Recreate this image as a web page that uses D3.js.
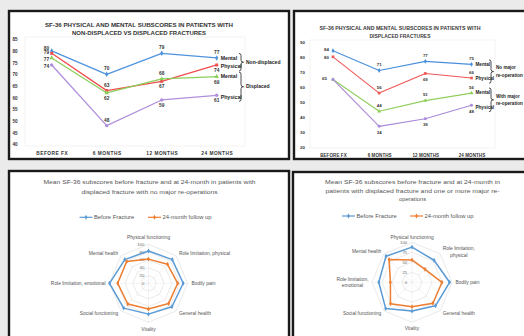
<!DOCTYPE html>
<html>
<head>
<meta charset="utf-8">
<script src="https://cdn.jsdelivr.net/npm/d3@7"></script>
<style>
  html, body { margin: 0; padding: 0; background: #ebebeb; }
  svg { display: block; font-family: "Liberation Sans", Arial, sans-serif; }
</style>
</head>
<body>
<svg id="chart" width="524" height="336"></svg>
<script>
// ---- Line charts: SF-36 summary scores over follow-up ----
const timepoints = ["BEFORE FX", "6 MONTHS", "12 MONTHS", "24 MONTHS"];

// Non-displaced vs displaced fractures
const ndMental   = [80, 70, 79, 77];
const ndPhysical = [79, 63, 67, 74];
const dMental    = [77, 62, 68, 69];
const dPhysical  = [74, 48, 59, 61];
const ticksA = [40, 45, 50, 55, 60, 65, 70, 75, 80, 85];

// Displaced fractures: without / with major re-operation
const noReopMental   = [84, 71, 77, 75];
const noReopPhysical = [80, 56, 69, 66];
const reopMental     = [65, 44, 51, 56];
const reopPhysical   = [65, 34, 39, 48];
const ticksB = [20, 30, 40, 50, 60, 70, 80, 90];

// ---- Radar charts: SF-36 subscales ----
const domains = ["Physical functioning", "Role limitation, physical", "Bodily pain",
  "General health", "Vitality", "Social functioning", "Role limitation, emotional", "Mental health"];
const noReopBefore = [83, 86, 89, 85, 79, 90, 100, 86];
const noReop24m    = [62, 69, 75, 73, 66, 75, 79, 79];
const reopBefore   = [88, 78, 94, 83, 72, 93, 83, 92];
const reop24m      = [56, 46, 75, 74, 61, 76, 54, 81];
const radarTicksC = [0, 20, 40, 60, 80, 100];
const radarTicksD = [0, 25, 50, 75, 100];
const legendNames = ["Before Fracture", "24-month follow up"];

const svg = d3.select("#chart");

// panel frames
const frames = [
  {x: 9, y: 11, w: 280, h: 148},
  {x: 294, y: 11, w: 240, h: 148},
  {x: 9, y: 171, w: 280, h: 180},
  {x: 293, y: 172, w: 240, h: 180}
];
svg.selectAll("rect.frame").data(frames).join("rect")
  .attr("class", "frame")
  .attr("x", d => d.x).attr("y", d => d.y).attr("width", d => d.w).attr("height", d => d.h)
  .attr("fill", "#fff").attr("stroke", "#1a1a1a").attr("stroke-width", 2.4);

function titleLines(g, lines, opt) {
  lines.forEach((t, i) => {
    const el = g.append("text")
      .attr("x", opt.cx).attr("y", opt.y0 + i * opt.lh)
      .attr("text-anchor", "middle").attr("dy", "0.35em")
      .attr("font-size", opt.fs).attr("font-weight", opt.bold ? "bold" : "normal")
      .attr("fill", opt.color).text(t);
    if (opt.widths && opt.widths[i]) el.attr("textLength", opt.widths[i]).attr("lengthAdjust", "spacingAndGlyphs");
  });
}

function brace(g, x, y1, y2, color) {
  const ym = (y1 + y2) / 2;
  g.append("path")
    .attr("d", `M${x - 2},${y1} Q${x},${y1} ${x},${y1 + 2} L${x},${ym - 2} Q${x},${ym} ${x + 2.5},${ym} Q${x},${ym} ${x},${ym + 2} L${x},${y2 - 2} Q${x},${y2} ${x - 2},${y2}`)
    .attr("fill", "none").attr("stroke", color).attr("stroke-width", 0.8);
}

function lineChart(g, opt) {
  const x = d3.scalePoint().domain(timepoints).range(opt.xRange);
  const y = d3.scaleLinear().domain(opt.yDomain).range(opt.yRange);

  g.append("rect")
    .attr("x", opt.plot[0]).attr("y", opt.plot[1]).attr("width", opt.plot[2]).attr("height", opt.plot[3])
    .attr("fill", "none").attr("stroke", "#f0f0f0").attr("stroke-width", 0.8);

  const ya = g.append("g").attr("transform", `translate(${opt.yAxisX},0)`)
    .call(d3.axisLeft(y).tickValues(opt.ticks).tickSize(0).tickPadding(2));
  ya.select(".domain").remove();
  ya.attr("font-family", null).attr("font-size", opt.tickFs).attr("font-weight", "bold");
  ya.selectAll("text").attr("fill", "#333");

  const xa = g.append("g").attr("transform", `translate(0,${opt.xAxisY})`)
    .call(d3.axisBottom(x).tickSize(0).tickPadding(0));
  xa.select(".domain").remove();
  xa.attr("font-family", null).attr("font-size", opt.catFs).attr("font-weight", "bold");
  xa.selectAll("text").attr("fill", "#333").attr("letter-spacing", opt.catSpacing);

  const line = d3.line().x((d, i) => x(timepoints[i])).y(d => y(d));

  opt.series.forEach(s => {
    g.append("path").datum(s.values)
      .attr("d", line).attr("fill", "none")
      .attr("stroke", s.color).attr("stroke-width", opt.lw).attr("stroke-linejoin", "round");
    g.selectAll(null).data(s.values).join("path")
      .attr("transform", (d, i) => `translate(${x(timepoints[i])},${y(d)})`)
      .attr("d", d3.symbol(s.symbol, opt.symSize))
      .attr("fill", s.color);

    // value labels, each placed relative to its own point
    const pts = s.values.map((v, i) => ({v, t: timepoints[i], p: s.pos[i]})).filter(d => d.p !== "none");
    g.selectAll(null).data(pts).join("text")
      .attr("x", d => d.p === "left" ? x(d.t) - s.leftDx : x(d.t))
      .attr("y", d => d.p === "above" ? y(d.v) - opt.labelOff
                    : d.p === "below" ? y(d.v) + opt.labelOff
                    : y(d.v) + s.leftDy)
      .attr("dy", "0.35em")
      .attr("text-anchor", d => d.p === "left" ? "end" : "middle")
      .attr("font-size", opt.labelFs).attr("font-weight", "bold").attr("fill", "#333")
      .text(d => d.v);

    const last = s.values[s.values.length - 1];
    g.append("text")
      .attr("x", x(timepoints[timepoints.length - 1]) + opt.nameDx)
      .attr("y", y(last) + s.nameDy).attr("dy", "0.35em")
      .attr("font-size", opt.nameFs).attr("font-weight", "bold").attr("fill", "#222")
      .text(s.name);
    s.yEnd = y(last) + s.nameDy;
  });

  opt.groups.forEach(gr => {
    const a = opt.series[gr.members[0]].yEnd, b = opt.series[gr.members[1]].yEnd;
    brace(g, opt.braceX, a - 4.5, b + 4.5, "#222");
    gr.lines.forEach((t, i) => {
      g.append("text")
        .attr("x", opt.braceX + 5)
        .attr("y", (a + b) / 2 + (i - (gr.lines.length - 1) / 2) * opt.groupLh)
        .attr("dy", "0.35em")
        .attr("font-size", opt.groupFs).attr("font-weight", "bold").attr("fill", "#222")
        .text(t);
    });
  });
}

// Chart A
const gA = svg.append("g");
titleLines(gA, ["SF-36 PHYSICAL AND MENTAL SUBSCORES IN PATIENTS WITH", "NON-DISPLACED VS DISPLACED FRACTURES"],
  {cx: 139, y0: 25, lh: 8.3, fs: 5, bold: true, color: "#333", widths: [188, 134]});
lineChart(gA, {
  xRange: [51.7, 216.7], yDomain: [40, 85], yRange: [144.3, 39.3],
  plot: [25, 37, 220, 109], yAxisX: 19.5, xAxisY: 151.3, ticks: ticksA,
  tickFs: 4.6, catFs: 4.8, catSpacing: 0.5, lw: 1.3, symSize: 9,
  labelOff: 5.5, labelFs: 4.8, nameDx: 4, nameFs: 5.2,
  braceX: 241, groupFs: 5, groupLh: 6,
  series: [
    {name: "Mental", values: ndMental, color: "#4f94dc", symbol: d3.symbolDiamond,
      pos: ["left", "above", "above", "above"], leftDx: 2.5, leftDy: -2.8, nameDy: 0},
    {name: "Physical", values: ndPhysical, color: "#f04d4d", symbol: d3.symbolSquare,
      pos: ["left", "above", "below", "below"], leftDx: 2.5, leftDy: -0.5, nameDy: 1.5},
    {name: "Mental", values: dMental, color: "#8ccf5a", symbol: d3.symbolTriangle,
      pos: ["left", "below", "above", "below"], leftDx: 2.5, leftDy: 1.5, nameDy: 0},
    {name: "Physical", values: dPhysical, color: "#b090dd", symbol: d3.symbolCircle,
      pos: ["left", "above", "below", "below"], leftDx: 2.5, leftDy: 1.5, nameDy: 1.5}
  ],
  groups: [
    {members: [0, 1], lines: ["Non-displaced"]},
    {members: [2, 3], lines: ["Displaced"]}
  ]
});

// Chart B
const gB = svg.append("g");
titleLines(gB, ["SF-36 PHYSICAL AND MENTAL SUBSCORES IN PATIENTS WITH", "DISPLACED FRACTURES"],
  {cx: 400, y0: 28, lh: 8, fs: 4.5, bold: true, color: "#3a3a3a", widths: [161, 61]});
lineChart(gB, {
  xRange: [333, 471.5], yDomain: [20, 90], yRange: [147.5, 41.7],
  plot: [310, 40, 185, 108], yAxisX: 307, xAxisY: 153.4, ticks: ticksB,
  tickFs: 4.4, catFs: 4.5, catSpacing: 0.1, lw: 1.1, symSize: 7,
  labelOff: 6, labelFs: 4.4, nameDx: 4, nameFs: 4.6,
  braceX: 491, groupFs: 4.6, groupLh: 7.5,
  series: [
    {name: "Mental", values: noReopMental, color: "#4a8fdc", symbol: d3.symbolDiamond,
      pos: ["left", "above", "above", "above"], leftDx: 4, leftDy: -1.3, nameDy: 0},
    {name: "Physical", values: noReopPhysical, color: "#ef5757", symbol: d3.symbolSquare,
      pos: ["left", "above", "below", "above"], leftDx: 4, leftDy: 0.5, nameDy: 0.7},
    {name: "Mental", values: reopMental, color: "#90cf5c", symbol: d3.symbolTriangle,
      pos: ["left", "above", "above", "above"], leftDx: 6, leftDy: -1, nameDy: -0.6},
    {name: "Physical", values: reopPhysical, color: "#a98ad8", symbol: d3.symbolCircle,
      pos: ["none", "below", "below", "below"], leftDx: 6, leftDy: 0, nameDy: 2}
  ],
  groups: [
    {members: [0, 1], lines: ["No major", "re-operation"]},
    {members: [2, 3], lines: ["With major", "re-operation"]}
  ]
});

// ---- Radar charts ----
function radar(g, opt) {
  const n = domains.length;
  const r = d3.scaleLinear().domain([0, 100]).range([0, opt.R]);
  const ang = i => i * 2 * Math.PI / n;
  const c = g.append("g").attr("transform", `translate(${opt.cx},${opt.cy})`);
  const ring = d3.lineRadial().angle((d, i) => ang(i)).radius(d => r(d)).curve(d3.curveLinearClosed);

  opt.ticks.filter(t => t > 0).forEach(t => {
    c.append("path").attr("d", ring(domains.map(() => t)))
      .attr("fill", "none").attr("stroke", "#dcdcdc").attr("stroke-width", 0.6);
  });
  domains.forEach((d, i) => {
    c.append("line").attr("x1", 0).attr("y1", 0)
      .attr("x2", r(100) * Math.sin(ang(i))).attr("y2", -r(100) * Math.cos(ang(i)))
      .attr("stroke", "#e6e6e6").attr("stroke-width", 0.5);
  });
  opt.ticks.forEach(t => {
    c.append("text").attr("x", -opt.tickDx).attr("y", -r(t)).attr("dy", "0.35em")
      .attr("text-anchor", "end").attr("font-size", 4.3).attr("fill", "#666").text(t);
  });

  opt.series.forEach(s => {
    c.append("path").attr("d", ring(s.values))
      .attr("fill", "none").attr("stroke", s.color).attr("stroke-width", 1.5).attr("stroke-linejoin", "round");
    c.selectAll(null).data(s.values).join("path")
      .attr("transform", (d, i) => `translate(${r(d) * Math.sin(ang(i))},${-r(d) * Math.cos(ang(i))})`)
      .attr("d", d3.symbol(d3.symbolDiamond, 7)).attr("fill", s.color);
  });

  domains.forEach((name, i) => {
    const a = ang(i);
    const sx = Math.sin(a), cy = -Math.cos(a);
    const rr = opt.R + opt.labelPad;
    let x = rr * sx, y = rr * cy;
    let anchor = "middle";
    if (sx > 0.01) anchor = "start";
    else if (sx < -0.01) anchor = "end";
    else y += cy * opt.vertPad;
    const lines = opt.wrap.includes(i) ? name.split(/(?<=,) /) : [name];
    const t = c.append("text").attr("font-size", opt.labelFs).attr("fill", "#555");
    lines.forEach((ln, k) => {
      t.append("tspan").attr("y", y + (k - (lines.length - 1) / 2) * opt.labelLh).attr("dy", "0.35em").text(ln);
    });
    if (lines.length > 1) {
      // centre the wrapped lines inside their block
      const w = Math.max(...t.selectAll("tspan").nodes().map(nd => nd.getComputedTextLength()));
      const mid = anchor === "start" ? x + w / 2 : anchor === "end" ? x - w / 2 : x;
      t.attr("text-anchor", "middle").selectAll("tspan").attr("x", mid);
    } else {
      t.attr("text-anchor", anchor).selectAll("tspan").attr("x", x);
    }
  });
}

function legend(g, opt) {
  const colors = ["#5b9bd5", "#ed7d31"];
  legendNames.forEach((name, i) => {
    const x0 = opt.x[i];
    g.append("line").attr("x1", x0).attr("x2", x0 + 13).attr("y1", opt.y).attr("y2", opt.y)
      .attr("stroke", colors[i]).attr("stroke-width", 1.2);
    g.append("path").attr("transform", `translate(${x0 + 6.5},${opt.y})`)
      .attr("d", d3.symbol(d3.symbolDiamond, 7)).attr("fill", colors[i]);
    g.append("text").attr("x", x0 + 14.5).attr("y", opt.y).attr("dy", "0.35em")
      .attr("font-size", opt.fs).attr("fill", "#555").text(name);
  });
}

// Chart C: no major re-operation
const gC = svg.append("g");
titleLines(gC, ["Mean SF-36 subscores before fracture and at 24-month in patients with",
  "displaced fracture with no major re-operations"],
  {cx: 149.5, y0: 182.3, lh: 9.4, fs: 5.8, bold: false, color: "#555", widths: [212, 136]});
legend(gC, {x: [79.5, 148], y: 217.3, fs: 5.8});
radar(gC, {
  cx: 148.5, cy: 283.3, R: 39, ticks: radarTicksC, tickDx: 4.2,
  labelPad: 4, vertPad: 3, labelFs: 4.9, labelLh: 6.5, wrap: [],
  series: [
    {values: noReopBefore, color: "#5b9bd5"},
    {values: noReop24m, color: "#ed7d31"}
  ]
});

// Chart D: one or more major re-operations
const gD = svg.append("g");
titleLines(gD, ["Mean SF-36 subscores before fracture and at 24-month in",
  "patients with displaced fracture and one or more major re-", "operations"],
  {cx: 412.5, y0: 181.7, lh: 8.8, fs: 5.8, bold: false, color: "#555", widths: [175, 174, 0]});
legend(gD, {x: [342, 410], y: 216, fs: 5.8});
radar(gD, {
  cx: 412, cy: 282.3, R: 40, ticks: radarTicksD, tickDx: 4.8,
  labelPad: 3.5, vertPad: 2, labelFs: 4.9, labelLh: 6.7, wrap: [1, 6],
  series: [
    {values: reopBefore, color: "#5b9bd5"},
    {values: reop24m, color: "#ed7d31"}
  ]
});
</script>
</body>
</html>
